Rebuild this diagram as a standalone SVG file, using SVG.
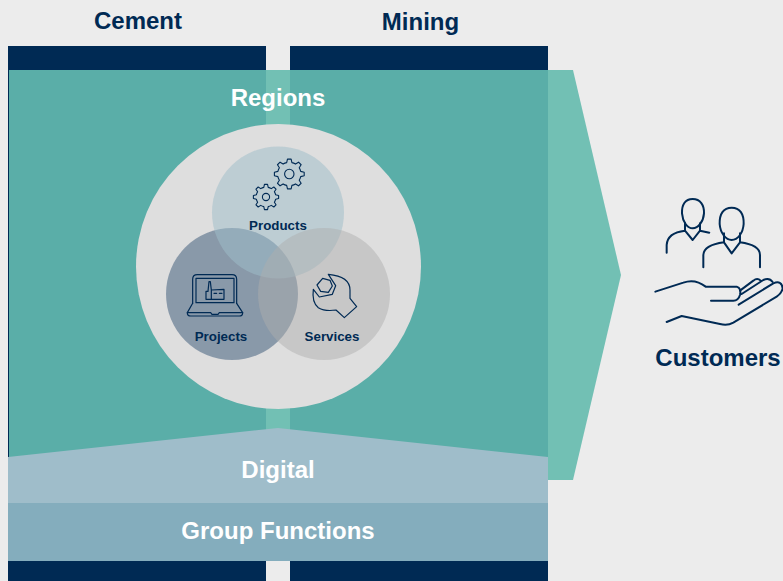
<svg xmlns="http://www.w3.org/2000/svg" width="783" height="581" viewBox="0 0 783 581">
<style>
text{font-family:"Liberation Sans",Arial,sans-serif;font-weight:bold;text-anchor:middle}
.h{font-size:24px;fill:#002a54}
.w{font-size:24px;fill:#fff}
.s{font-size:13.33px;fill:#002a54}
.i{fill:none;stroke:#002a54;stroke-linecap:round;stroke-linejoin:round}
</style>
<defs>
<path id="gear" vector-effect="non-scaling-stroke" d="M76 -17.5L99.3 -12.2L99.3 12.2L76 17.5A78 78 0 0 1 66.1 41.3L78.8 61.6L61.6 78.8L41.3 66.1A78 78 0 0 1 17.5 76L12.2 99.3L-12.2 99.3L-17.5 76A78 78 0 0 1 -41.3 66.1L-61.6 78.8L-78.8 61.6L-66.1 41.3A78 78 0 0 1 -76 17.5L-99.3 12.2L-99.3 -12.2L-76 -17.5A78 78 0 0 1 -66.1 -41.3L-78.8 -61.6L-61.6 -78.8L-41.3 -66.1A78 78 0 0 1 -17.5 -76L-12.2 -99.3L12.2 -99.3L17.5 -76A78 78 0 0 1 41.3 -66.1L61.6 -78.8L78.8 -61.6L66.1 -41.3A78 78 0 0 1 76 -17.5Z"/>
</defs>
<rect width="783" height="581" fill="#ececec"/>
<g id="cement">
<rect x="8" y="46" width="258" height="535" fill="#002a54"/>
<text class="h" x="138" y="29">Cement</text>
</g>
<g id="mining">
<rect x="290" y="46" width="258" height="535" fill="#002a54"/>
<text class="h" x="420.500" y="30">Mining</text>
</g>
<g id="regions">
<path d="M9 70H573L621 275L573 480H9Z" fill="#72c0b4"/>
<rect x="9" y="70" width="257" height="410" fill="#5aaea8"/>
<rect x="290" y="70" width="258" height="410" fill="#5aaea8"/>
<text class="w" x="278" y="106">Regions</text>
</g>
<g id="digital">
<path d="M8 457L278 428L548 457V503H8Z" fill="#9fbdca"/>
<text class="w" x="278" y="478">Digital</text>
</g>
<g id="group-functions">
<rect x="8" y="503" width="540" height="58" fill="#84adbd"/>
<text class="w" x="278" y="539">Group Functions</text>
</g>
<circle id="core" cx="278.500" cy="266.500" r="142.500" fill="#dedede"/>
<g id="projects">
<circle cx="232" cy="294" r="66" fill="#002a54" fill-opacity=".38"/>
</g>
<g id="products">
<circle cx="278" cy="212.500" r="66" fill="#9fbdca" fill-opacity=".52"/>
<use href="#gear" transform="translate(289.300 174) scale(.15)" class="i" stroke-width="1.100"/>
<circle cx="289.300" cy="174" r="4.700" class="i" stroke-width="1.100"/>
<use href="#gear" transform="translate(266 197) scale(.127)" class="i" stroke-width="1.100"/>
<circle cx="266" cy="197" r="3.600" class="i" stroke-width="1.100"/>
<text class="s" x="278" y="230">Products</text>
</g>
<g id="services">
<circle cx="324" cy="294" r="66" fill="#adadad" fill-opacity=".48"/>
<g transform="translate(300 265) scale(.3333)" class="i" stroke-width="3.600">
<path d="M85 28Q150 34 150 75V100L170 125L133 158L108 135Q75 140 55 128Q35 112 40 73L58 96L97 88L107 62Z"/>
<path d="M68 40L90 46L97 63L85 82L62 79L51 60Z"/>
</g>
<text class="s" x="332" y="341">Services</text>
</g>
<g id="projects-label">
<g transform="translate(150 130) scale(.3333)" class="i" stroke-width="3.600">
<path d="M128 520V448Q128 434 142 434H246Q260 434 260 448V520"/>
<rect x="138" y="445" width="114" height="73"/>
<path d="M128 520L112 548Q112 558 122 558H268Q278 558 278 548L260 520"/>
<path d="M112 548H182L186 553H204L208 548H278"/>
<path d="M168 508V484H174L177 455H181L184 480L222 478V508ZM184 480V508"/>
<path d="M192 490H200M208 490H216"/>
</g>
<text class="s" x="221" y="341">Projects</text>
</g>
<g id="customers">
<g transform="translate(640 190) scale(.3333)" class="i" stroke-width="6">
<path d="M158 27C135 27 125 45 126 70C128 95 142 115 158 115C175 115 190 95 192 70C193 45 181 27 158 27Z"/>
<path d="M135 100V122L158 150L180 122V100M80 188V165Q82 128 135 122M180 122L208 128"/>
<path d="M275 53C250 53 238 72 239 102C241 130 258 150 275 150C293 150 309 130 311 102C312 72 300 53 275 53Z"/>
<path d="M252 130V157L275 190L300 157V130M190 232V195Q192 165 252 157M300 157Q360 165 360 195V232"/>
<path d="M46 305L130 278Q165 265 197 290H290Q305 295 300 315Q295 332 280 332H213"/>
<path d="M300 302L340 272Q352 262 362 272M305 312L370 270Q388 262 398 276"/>
<path d="M296 344L400 280Q425 270 428 295Q425 310 410 320L280 398Q262 408 240 402L125 378L80 396"/>
</g>
<text class="h" x="718" y="366">Customers</text>
</g>
</svg>
